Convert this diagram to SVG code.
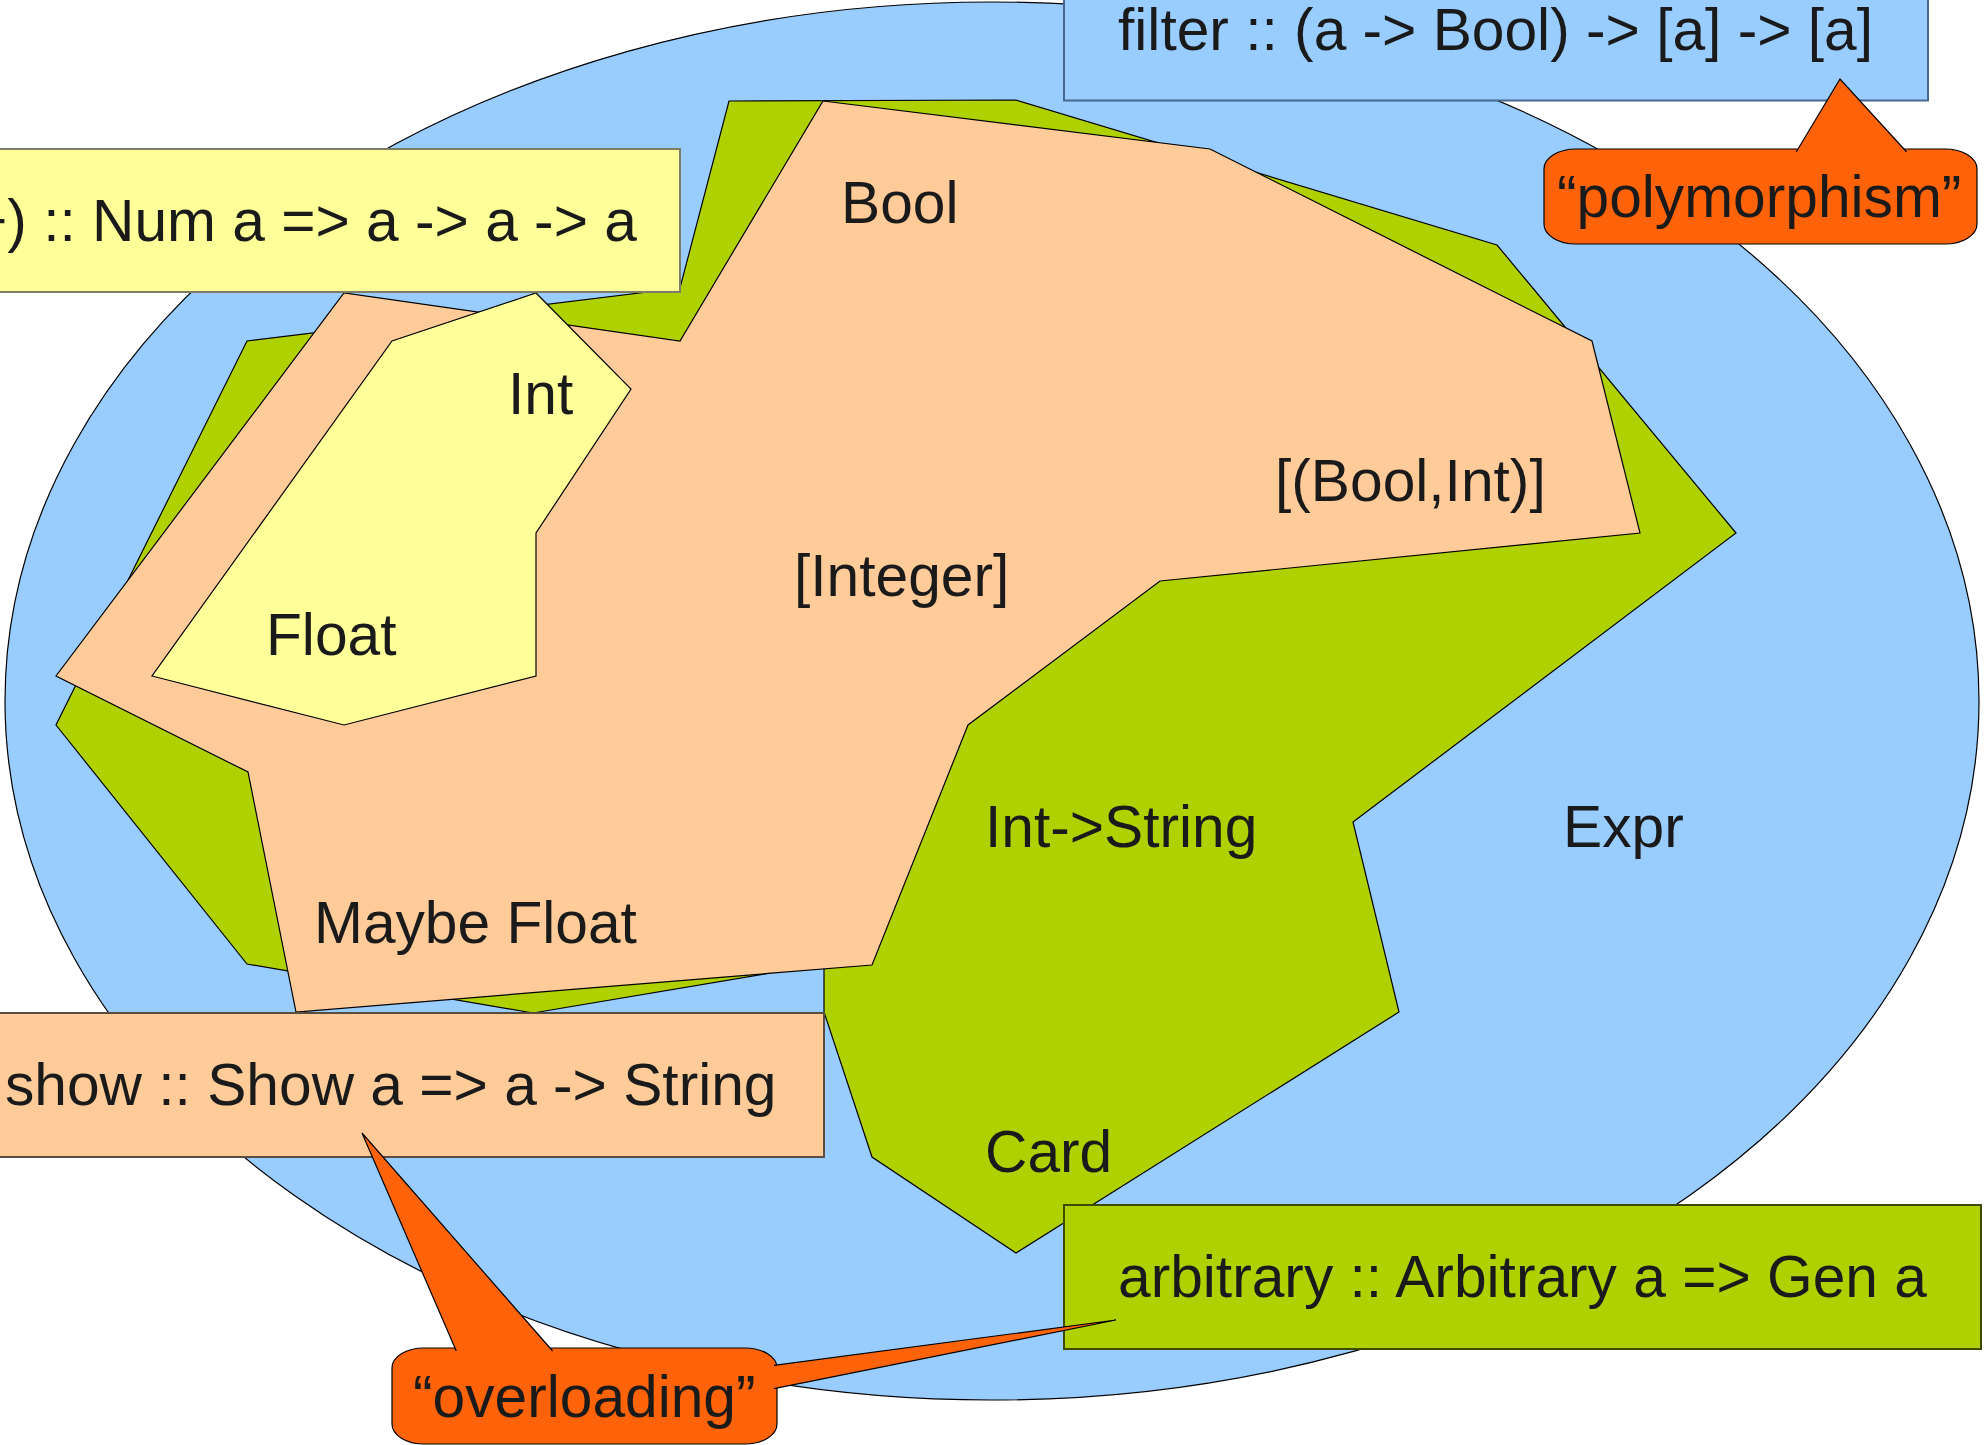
<svg xmlns="http://www.w3.org/2000/svg" width="1984" height="1445" viewBox="0 0 1984 1445">
<style>
  .t{font-family:"Liberation Sans",Arial,sans-serif;font-size:58.7px;fill:#1a1a1a}
  .shape{stroke:#000;stroke-width:1.2;stroke-linejoin:miter}
  .blue{fill:#99ccff}
  .green{fill:#b0d100}
  .peach{fill:#ffcc99}
  .yellow{fill:#ffff99}
  .orange{fill:#ff6309}
  .box{stroke-width:2}
</style>
<rect x="0" y="0" width="1984" height="1445" fill="#ffffff"/>
<g id="universe">
  <ellipse class="shape blue" cx="992" cy="701" rx="987" ry="699"/>
  <text class="t" x="1563" y="847">Expr</text>
</g>
<g id="arbitrary-region">
  <polygon class="shape green" points="729,101 1016,100 1497,245 1736,533 1353,822 1399,1012 1016,1253 872,1157 824,1012 824,964 533,1013 247,964 56,725 247,341 680,288"/>
  <text class="t" x="985" y="847">Int-&gt;String</text>
  <text class="t" x="985" y="1172">Card</text>
</g>
<g id="show-region">
  <polygon class="shape peach" points="823,101 1210,149 1592,341 1640,533 1160,581 968,725 872,965 296,1012 248,772 56,676 344,293 680,341"/>
  <text class="t" x="841" y="223">Bool</text>
  <text class="t" x="1275" y="501">[(Bool,Int)]</text>
  <text class="t" x="794" y="596">[Integer]</text>
  <text class="t" x="314" y="943">Maybe Float</text>
</g>
<g id="num-region">
  <polygon class="shape yellow" points="536,293 631,389 536,533 536,676 344,725 152,676 392,341"/>
  <text class="t" x="508" y="414">Int</text>
  <text class="t" x="266" y="655">Float</text>
</g>
<g id="num-box">
  <rect class="box yellow" stroke="#7d7d66" x="-10" y="149" width="690" height="143"/>
  <text class="t" x="-46.5" y="241">(+) :: Num a =&gt; a -&gt; a -&gt; a</text>
</g>
<g id="filter-box">
  <rect class="box blue" stroke="#46698c" x="1064" y="-10" width="864" height="110.5"/>
  <text class="t" x="1118" y="50">filter :: (a -&gt; Bool) -&gt; [a] -&gt; [a]</text>
</g>
<g id="show-box">
  <rect class="box peach" stroke="#5a4d40" x="-10" y="1013" width="834" height="144"/>
  <text class="t" x="5" y="1105">show :: Show a =&gt; a -&gt; String</text>
</g>
<g id="arbitrary-box">
  <rect class="box green" stroke="#3d4a00" x="1064" y="1205" width="917" height="144"/>
  <text class="t" x="1118" y="1297">arbitrary :: Arbitrary a =&gt; Gen a</text>
</g>
<g id="polymorphism-callout">
  <rect class="shape orange" x="1544" y="149" width="433" height="95" rx="32" ry="20"/>
  <text class="t" x="1557" y="217">“polymorphism”</text>
</g>
<g id="overloading-callout">
  <rect class="shape orange" x="392" y="1348" width="385" height="96" rx="32" ry="20"/>
  <text class="t" x="413" y="1417">“overloading”</text>
</g>
<g id="connectors">
  <path class="orange" d="M1796.2,152 L1840,79 L1906.7,152 Z"/>
  <path fill="none" stroke="#000" stroke-width="1.2" d="M1796.2,152 L1840,79 L1906.7,152"/>
  <path class="orange" d="M456.3,1351 L362,1133 L552.6,1351 Z"/>
  <path fill="none" stroke="#000" stroke-width="1.2" d="M456.3,1351 L362,1133 L552.6,1351"/>
  <path class="orange" d="M774,1365.4 L1116,1320 L774,1388.6 Z"/>
  <path fill="none" stroke="#000" stroke-width="1.2" d="M774,1365.4 L1116,1320 L774,1388.6"/>
</g>
</svg>
